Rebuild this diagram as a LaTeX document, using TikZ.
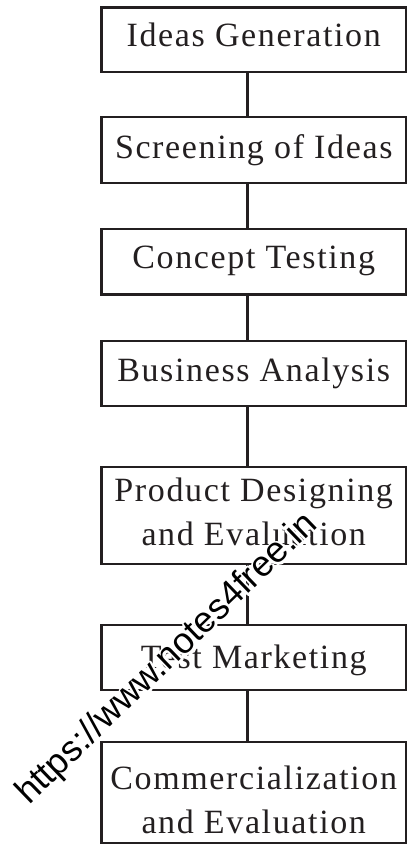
\documentclass[tikz,border=0pt]{standalone}
\usepackage{fontspec}
\usetikzlibrary{calc}
\setmainfont{Liberation Serif}[LetterSpace=4.8]
\newfontfamily\wmfont{Liberation Sans}
\definecolor{ink}{HTML}{231F20}
\newcommand{\haloon}{\special{pdf:literal direct 2 Tr 4.5 w 1 j}}
\newcommand{\halooff}{\special{pdf:literal direct 0 Tr}}
\begin{document}
\begin{tikzpicture}[x=1pt,y=-1pt,
  stagebox/.style={draw=ink, line width=2.8pt, text=ink, inner sep=0pt,
    minimum width=304.5pt, align=center,
    font=\fontsize{34}{44}\selectfont, text height=23pt},
  conn/.style={draw=ink, line width=2.5pt},
  wm/.style={font=\wmfont\fontsize{36}{36}\selectfont, rotate=44, anchor=base west, inner sep=0pt}
]
\useasboundingbox (0,0) rectangle (409,845);
\node[stagebox, minimum height=64.5pt, text depth=9pt]  (s1) at (253.75,39.75) {Ideas Generation};
\node[stagebox, minimum height=66pt, text depth=6.4pt]  (s2) at (253.75,150)   {Screening of Ideas};
\node[stagebox, minimum height=65.5pt, text depth=9pt]  (s3) at (253.75,261.75) {Concept Testing};
\node[stagebox, minimum height=65pt, text depth=6.6pt]  (s4) at (253.75,373.5)  {Business Analysis};
\node[stagebox, minimum height=97pt, text height=67pt, text depth=8pt] (s5) at (253.75,515.5)  {Product Designing\\and Evaluation};
\node[stagebox, minimum height=65pt, text depth=1.4pt]  (s6) at (253.75,657.5)  {Test Marketing};
\node[stagebox, minimum height=101pt, text height=85pt, text depth=4pt] (s7) at (253.75,792.5) {Commercialization\\and Evaluation};
\foreach \a/\b in {s1/s2,s2/s3,s3/s4,s4/s5,s5/s6,s6/s7}
  \draw[conn] ([xshift=-6.5pt]\a.south) -- ([xshift=-6.5pt]\b.north);
% watermark with white halo
\coordinate (wmpos) at (29,806);
\node[wm, text=white] (wmhalo) at (wmpos) {\haloon https://www.notes4free.in\halooff};
\node[wm, text=black] (wmark) at (wmpos) {https://www.notes4free.in};
\end{tikzpicture}
\end{document}
